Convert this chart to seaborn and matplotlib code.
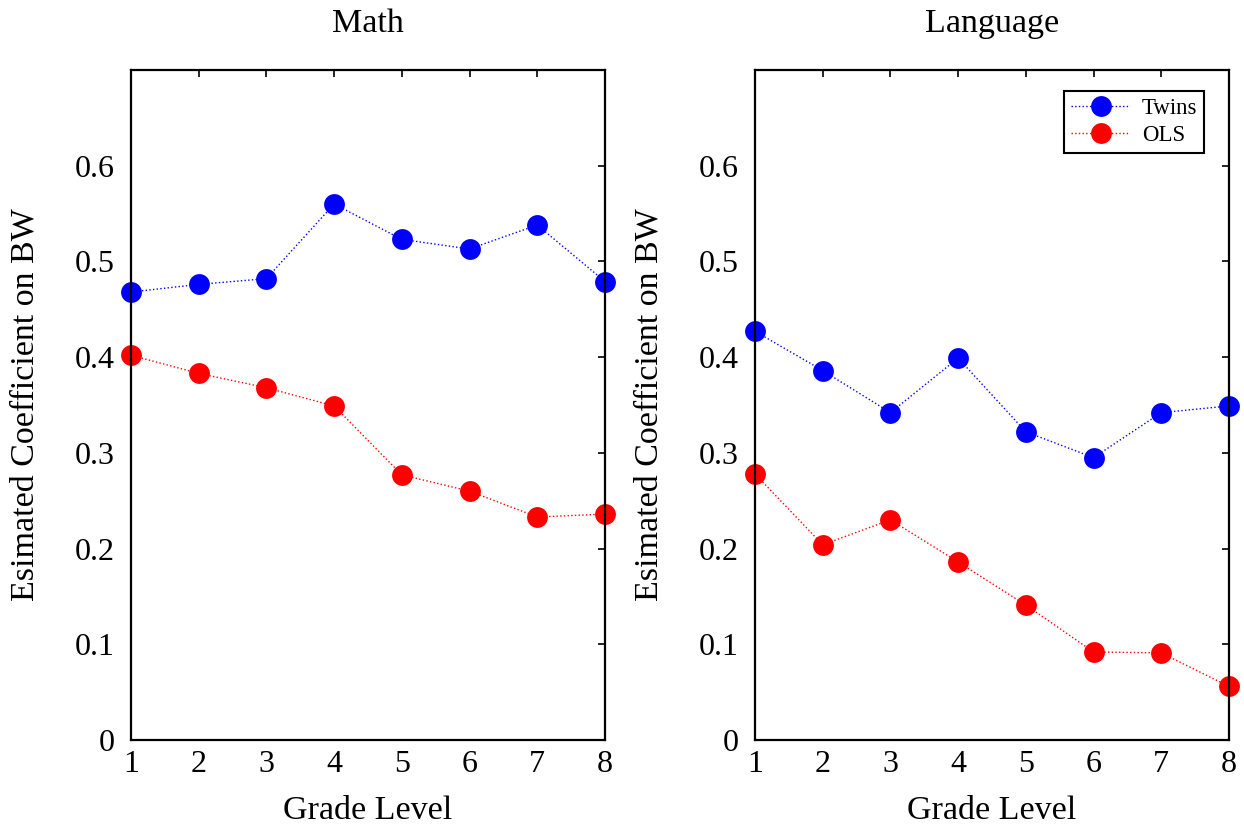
import matplotlib
matplotlib.use("Agg")
import matplotlib.pyplot as plt
import seaborn as sns
import pandas as pd

grades = [1, 2, 3, 4, 5, 6, 7, 8]
math_twins = [0.468, 0.476, 0.482, 0.560, 0.523, 0.513, 0.538, 0.479]
math_ols = [0.402, 0.383, 0.368, 0.349, 0.277, 0.260, 0.233, 0.236]
lang_twins = [0.427, 0.386, 0.342, 0.399, 0.322, 0.295, 0.342, 0.349]
lang_ols = [0.278, 0.204, 0.230, 0.186, 0.141, 0.092, 0.091, 0.056]
yticks = [0, 0.1, 0.2, 0.3, 0.4, 0.5, 0.6]

sns.set_style("white")
plt.rcParams['font.family'] = ['Liberation Serif', 'DejaVu Serif']
plt.rcParams['text.color'] = 'black'
plt.rcParams['axes.labelcolor'] = 'black'
plt.rcParams['xtick.direction'] = 'in'
plt.rcParams['ytick.direction'] = 'in'

fig = plt.figure(figsize=(12.44, 8.31), dpi=100)
ax1 = fig.add_axes([0.1053, 0.1095, 0.381, 0.8063])
ax2 = fig.add_axes([0.6069, 0.1095, 0.381, 0.8063])

def draw(ax, twins, ols, title, legend):
    df = pd.DataFrame({
        'grade': grades * 2,
        'value': twins + ols,
        'series': ['Twins'] * len(grades) + ['OLS'] * len(grades),
    })
    sns.lineplot(data=df, x='grade', y='value', hue='series',
                 palette={'Twins': '#0000ff', 'OLS': '#ff0000'},
                 marker='o', markersize=15, markeredgewidth=0,
                 linestyle=':', linewidth=1.0, ax=ax, legend=legend)
    ax.set_xlim(1, 8)
    ax.set_ylim(0, 0.7)
    ax.set_xticks(grades)
    ax.set_yticks(yticks)
    ax.set_yticklabels(['0', '0.1', '0.2', '0.3', '0.4', '0.5', '0.6'])
    ax.tick_params(axis='both', labelsize=23, length=5, width=1.2,
                   top=True, right=True, direction='in', colors='black')
    ax.tick_params(axis='y', pad=12)
    ax.tick_params(axis='x', pad=7)
    for s in ax.spines.values():
        s.set_linewidth(1.6)
        s.set_color('black')
    ax.set_xlabel('Grade Level', fontsize=24.5, labelpad=12)
    ax.set_ylabel('Esimated Coefficient on BW', fontsize=24.5, labelpad=24)
    ax.set_title(title, fontsize=24.5, pad=27)
    for line in ax.lines:
        line.set_clip_on(False)

draw(ax1, math_twins, math_ols, 'Math', False)
draw(ax2, lang_twins, lang_ols, 'Language', True)
leg = ax2.legend(loc='upper right', fontsize=16.5, frameon=True, fancybox=False,
                 edgecolor='black', framealpha=1, borderpad=0.3,
                 handlelength=2.6, labelspacing=0.25, handletextpad=0.5,
                 bbox_to_anchor=(0.972, 0.985))
leg.get_frame().set_linewidth(1.5)
for h in leg.legend_handles:
    h.set_markersize(15)

fig.savefig('out.png', dpi=100)
